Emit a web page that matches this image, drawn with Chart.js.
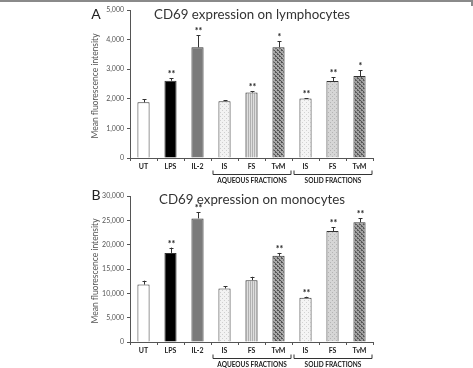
<!DOCTYPE html>
<html>
<head>
<meta charset="utf-8">
<script src="https://cdn.jsdelivr.net/npm/chart.js@4"></script>
<style>
  body { margin: 0; background: #fff; }
  .panel { position: absolute; left: 0; width: 473px; height: 184px; }
</style>
</head>
<body>
<div class="panel" style="top:0"><canvas id="chartA" width="473" height="184"></canvas></div>
<div class="panel" style="top:184px"><canvas id="chartB" width="473" height="184"></canvas></div>
<script>
// categories and groups
const categories = ['UT', 'LPS', 'IL-2', 'IS', 'FS', 'TvM', 'IS', 'FS', 'TvM'];
const groupLabels = ['AQUEOUS FRACTIONS', 'SOLID FRACTIONS'];
const groupSpans = [[3, 5], [6, 8]];

// panel A - lymphocytes
const lymphoMeans = [1880, 2610, 3740, 1920, 2210, 3740, 2010, 2600, 2770];
const lymphoErrors = [100, 80, 410, 30, 40, 210, 10, 120, 200];
const lymphoStars = ['', '**', '**', '', '**', '*', '**', '**', '*'];

// panel B - monocytes
const monoMeans = [11800, 18300, 25400, 11000, 12700, 17700, 9100, 22800, 24600];
const monoErrors = [800, 1100, 1300, 500, 700, 600, 200, 800, 800];
const monoStars = ['', '**', '**', '', '', '**', '**', '**', '**'];

const FONT = 'Lato, "Open Sans", sans-serif';

function makePattern(bg, fg, kind) {
  const c = document.createElement('canvas');
  c.width = 4; c.height = 4;
  const g = c.getContext('2d');
  g.fillStyle = bg;
  g.fillRect(0, 0, 4, 4);
  g.fillStyle = fg;
  if (kind === 'dots') {
    g.fillRect(0, 0, 1, 1);
    g.fillRect(2, 2, 1, 1);
  } else if (kind === 'vlines') {
    g.fillRect(0, 0, 1, 4);
    g.fillRect(2, 0, 1, 4);
  } else if (kind === 'cross') {
    g.fillRect(0, 0, 1, 1); g.fillRect(1, 1, 1, 1);
    g.fillRect(2, 2, 1, 1); g.fillRect(3, 3, 1, 1);
    g.fillRect(3, 0, 1, 1); g.fillRect(1, 2, 1, 1);
  }
  return g.createPattern(c, 'repeat');
}

const fills = [
  '#ffffff',
  '#000000',
  '#7a7a7a',
  makePattern('#f2f2f2', '#cfcfcf', 'dots'),
  makePattern('#dedede', '#b0b0b0', 'vlines'),
  makePattern('#a8a8a8', '#555555', 'cross'),
  makePattern('#f4f4f4', '#d2d2d2', 'dots'),
  makePattern('#d6d6d6', '#b4b4b4', 'dots'),
  makePattern('#a0a0a0', '#5a5a5a', 'cross')
];

const annotate = {
  id: 'annotate',
  afterDatasetsDraw(chart, args, opts) {
    const ctx = chart.ctx;
    const x = chart.scales.x, y = chart.scales.y;
    const area = chart.chartArea;
    ctx.save();
    // error bars + stars
    ctx.strokeStyle = '#333';
    ctx.lineWidth = 1;
    opts.means.forEach((m, i) => {
      const px = Math.round(x.getPixelForValue(i)) + 0.5;
      const top = y.getPixelForValue(m);
      const et = y.getPixelForValue(m + opts.errors[i]);
      ctx.beginPath();
      ctx.moveTo(px, top);
      ctx.lineTo(px, et);
      ctx.moveTo(px - 2, Math.round(et) + 0.5);
      ctx.lineTo(px + 2, Math.round(et) + 0.5);
      ctx.stroke();
      if (opts.stars[i]) {
        ctx.fillStyle = '#222';
        ctx.font = 'bold 9px ' + FONT;
        ctx.textAlign = 'center';
        ctx.textBaseline = 'alphabetic';
        ctx.fillText(opts.stars[i], px, et - 1);
      }
    });
    // group brackets
    const half = (x.getPixelForValue(1) - x.getPixelForValue(0)) / 2;
    ctx.strokeStyle = '#333';
    groupSpans.forEach((s, k) => {
      const x0 = x.getPixelForValue(s[0]) - half + 2;
      const x1 = x.getPixelForValue(s[1]) + half - 1;
      const yb = area.bottom + 16.5;
      ctx.beginPath();
      ctx.moveTo(x0, yb - 4);
      ctx.lineTo(x0, yb);
      ctx.lineTo(x1, yb);
      ctx.lineTo(x1, yb - 4);
      ctx.stroke();
      ctx.fillStyle = '#222';
      ctx.font = 'bold 6.5px ' + FONT;
      ctx.textAlign = 'center';
      ctx.textBaseline = 'middle';
      ctx.fillText(groupLabels[k], (x0 + x1) / 2, yb + 6);
    });
    // title, panel letter, y title
    ctx.fillStyle = '#333';
    ctx.font = '13.3px ' + FONT;
    ctx.textAlign = 'center';
    ctx.textBaseline = 'middle';
    ctx.fillText(opts.title, 252, opts.titleY);
    ctx.fillStyle = '#222';
    ctx.font = '14px ' + FONT;
    ctx.fillText(opts.letter, 96, opts.letterY);
    ctx.save();
    ctx.translate(95, (area.top + area.bottom) / 2 + 2);
    ctx.rotate(-Math.PI / 2);
    ctx.fillStyle = '#555';
    ctx.font = '8.5px ' + FONT;
    ctx.fillText('Mean fluorescence intensity', 0, 0);
    ctx.restore();
    if (opts.frame) {
      ctx.fillStyle = '#8a8a8a';
      ctx.fillRect(0, 0, 471, 2);
      ctx.fillRect(471, 0, 2, 6);
    }
    ctx.restore();
  }
};

function buildChart(id, means, errors, stars, maxY, step, title, letter, padTop, titleY, letterY, frame) {
  return new Chart(document.getElementById(id), {
    type: 'bar',
    data: {
      labels: categories,
      datasets: [{
        data: means,
        backgroundColor: fills,
        borderColor: '#333',
        borderWidth: 1,
        barPercentage: 0.45,
        categoryPercentage: 1
      }]
    },
    options: {
      responsive: false,
      animation: false,
      layout: { padding: { top: padTop, right: 100, left: 0, bottom: 0 } },
      plugins: {
        legend: { display: false },
        tooltip: { enabled: false },
        annotate: { means, errors, stars, title, letter, titleY, letterY, frame }
      },
      scales: {
        x: {
          afterFit: s => { s.height = 26; },
          border: { color: '#555', width: 1 },
          grid: { offset: true, drawOnChartArea: false, drawTicks: true, tickLength: 3, color: '#555' },
          ticks: { color: '#222', font: { family: FONT, size: 7, weight: 'bold' }, padding: 2, maxRotation: 0, autoSkip: false }
        },
        y: {
          min: 0, max: maxY,
          afterFit: s => { s.width = 130; },
          border: { color: '#555', width: 1 },
          grid: { drawOnChartArea: false, drawTicks: true, tickLength: 3, color: '#555' },
          ticks: {
            stepSize: step, color: '#555', padding: 3,
            font: { family: FONT, size: 7 },
            callback: v => v.toLocaleString('en-US')
          }
        }
      }
    },
    plugins: [annotate]
  });
}

buildChart('chartA', lymphoMeans, lymphoErrors, lymphoStars, 5000, 1000,
  'CD69 expression on lymphocytes', 'A', 10, 15, 14, true);
buildChart('chartB', monoMeans, monoErrors, monoStars, 30000, 5000,
  'CD69 expression on monocytes', 'B', 12, 16, 11, false);
</script>
</body>
</html>
